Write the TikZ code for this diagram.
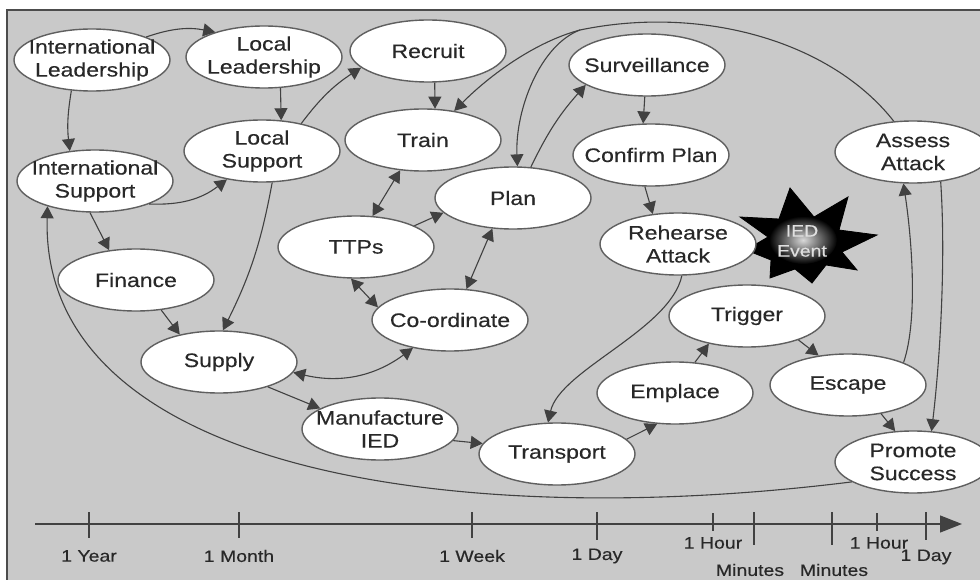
\documentclass[tikz,border=0pt]{standalone}
\usepackage{fontspec}
\setmainfont{Liberation Sans}[FakeStretch=1.18,FakeBold=0.35]
\usetikzlibrary{shapes.geometric,arrows.meta}
\definecolor{bgc}{RGB}{201,201,201}
\definecolor{edgec}{RGB}{65,65,65}
\definecolor{txtc}{RGB}{40,40,40}
\definecolor{rimc}{RGB}{95,95,95}
\newcommand\mkev[4]{\node[ev] (#1) at (#2,#3) {}; \node[tx] (#1-t) at (#1) {#4};}
\begin{document}
\begin{tikzpicture}[x=1pt,y=-1pt,
  ev/.style={ellipse, draw=rimc, line width=1.4pt, fill=white, minimum width=156pt, minimum height=62pt, inner sep=0pt},
  tx/.style={align=center, text=txtc, inner sep=0pt, font=\fontsize{19.5}{23}\selectfont},
  arr/.style={draw=edgec, line width=1.1pt, -{Triangle[length=12pt,width=13pt]}},
  darr/.style={draw=edgec, line width=1.1pt, {Triangle[length=12pt,width=13pt]}-{Triangle[length=12pt,width=13pt]}},
  ln/.style={draw=edgec, line width=1.1pt},
  tk/.style={draw=edgec, line width=1.2pt},
  lab/.style={text=txtc, inner sep=0pt, font=\fontsize{16.5}{18}\selectfont}]
\useasboundingbox (0,0) rectangle (980,580);
% background frame
\fill[bgc] (7,10) rectangle (990,590);
\draw[black!70, line width=1.6pt] (7,590) -- (7,10) -- (990,10);

% IED star
\path[fill=black, draw=black, line width=0.8pt]
  (790,188) -- (814,217) -- (848,197) -- (839,230) -- (877,235) -- (842,252)
  -- (857,270) -- (826,265) -- (812,283) -- (795,269) -- (770,278) -- (771,260)
  -- (746,250) -- (768,237) -- (740,217) -- (779,219) -- cycle;
\shade[inner color=white!85!black, outer color=black] (803,240) ellipse (34pt and 24pt);
\node[align=center, inner sep=0pt, text=white!88!black, font=\fontsize{16.5}{20}\selectfont] (ied) at (802,241) {IED\\Event};

% nodes
\mkev{il}{92}{60}{International\\Leadership}
\mkev{ll}{264}{57}{Local\\Leadership}
\mkev{rec}{428}{51}{Recruit}
\mkev{is}{95}{181}{International\\Support}
\mkev{ls}{262}{151}{Local\\Support}
\mkev{tr}{423}{140}{Train}
\mkev{sv}{647}{65}{Surveillance}
\mkev{cp}{651}{155}{Confirm Plan}
\mkev{pl}{513}{198}{Plan}
\mkev{ttp}{356}{247}{TTPs}
\mkev{ra}{678}{244}{Rehearse\\Attack}
\mkev{aa}{913}{152}{Assess\\Attack}
\mkev{fin}{136}{280}{Finance}
\mkev{co}{450}{320}{Co-ordinate}
\mkev{sup}{219}{362}{Supply}
\mkev{tg}{747}{316}{Trigger}
\mkev{em}{675}{393}{Emplace}
\mkev{es}{848}{385}{Escape}
\mkev{mi}{380}{429}{Manufacture\\IED}
\mkev{tp}{557}{454}{Transport}
\mkev{ps}{913}{462}{Promote\\Success}

% connectors
\draw[arr] (il.23) to[bend left=15] (ll.153);
\draw[arr] (il.-124) to[bend right=8] (is.130);
\draw[arr] (ll.-62) -- (ls.58);
\draw[arr] (is.-23) to[bend right=20] (ls.-141);
\draw[arr] (is.-99) -- (fin.132);
\draw[arr] (ls.35) to[bend left=10] (rec.-166);
\draw[arr] (ls.-72) to[bend left=8] (sup.83);
\draw[arr] (rec.-78) -- (tr.69);
\coordinate (j) at (580,30);
\draw[ln] (aa.122) .. controls (830,40) and (700,5) .. (j);
\draw[arr] (j) .. controls (535,42) and (490,75) .. (tr.43);
\draw[arr] (j) .. controls (540,45) and (515,110) .. (pl.82);
\draw[darr] (tr.-127) -- (ttp.62);
\draw[arr] (ttp.20) -- (pl.-168);
\draw[darr] (pl.-124) -- (co.62);
\draw[darr] (ttp.-99) -- (co.170);
\draw[darr] (sup.-8) to[bend right=25] (co.-143);
\draw[arr] (pl.60) to[bend left=8] (sv.-162);
\draw[arr] (sv.-94) -- (cp.104);
\draw[arr] (cp.-101) -- (ra.130);
\draw[arr] (ra.-83) .. controls (670,330) and (560,370) .. (tp.106);
\draw[arr] (fin.-50) -- (sup.145);
\draw[arr] (sup.-27) -- (mi.161);
\draw[arr] (mi.-9) -- (tp.172);
\draw[arr] (tp.12) -- (em.-120);
\draw[arr] (em.57) -- (tg.-144);
\draw[arr] (tg.-25) -- (es.135);
\draw[arr] (es.22) .. controls (918,320) and (912,240) .. (aa.-107);
\draw[arr] (aa.-47) .. controls (946,260) and (940,360) .. (ps.59);
\draw[arr] (es.-41) -- (ps.120);
\draw[arr] (ps.-162) .. controls (450,532) and (40,470) .. (is.-152);

% time axis
\coordinate (a0) at (35,524);
\coordinate (a1) at (962,524);
\draw[edgec, line width=1.3pt, -{Triangle[length=22pt,width=17pt]}] (a0) -- (a1);
\draw[tk] (89,512) -- (89,538);
\draw[tk] (239,512) -- (239,538);
\draw[tk] (472,512) -- (472,538);
\draw[tk] (597,512) -- (597,540);
\draw[tk] (713,513) -- (713,531);
\draw[tk] (754,512) -- (754,545);
\draw[tk] (832,512) -- (832,545);
\draw[tk] (877,513) -- (877,531);
\draw[tk] (926,512) -- (926,540);
\node[lab] (l1) at (89,556) {1 Year};
\node[lab] (l2) at (239,556) {1 Month};
\node[lab] (l3) at (472,556) {1 Week};
\node[lab] (l4) at (597,556) {1 Day};
\node[lab] (l5) at (713,543) {1 Hour};
\node[lab] (l6) at (879,543) {1 Hour};
\node[lab] (l7) at (926,557) {1 Day};
\node[lab] (l8) at (750,570) {Minutes};
\node[lab] (l9) at (834,570) {Minutes};
\end{tikzpicture}
\end{document}
